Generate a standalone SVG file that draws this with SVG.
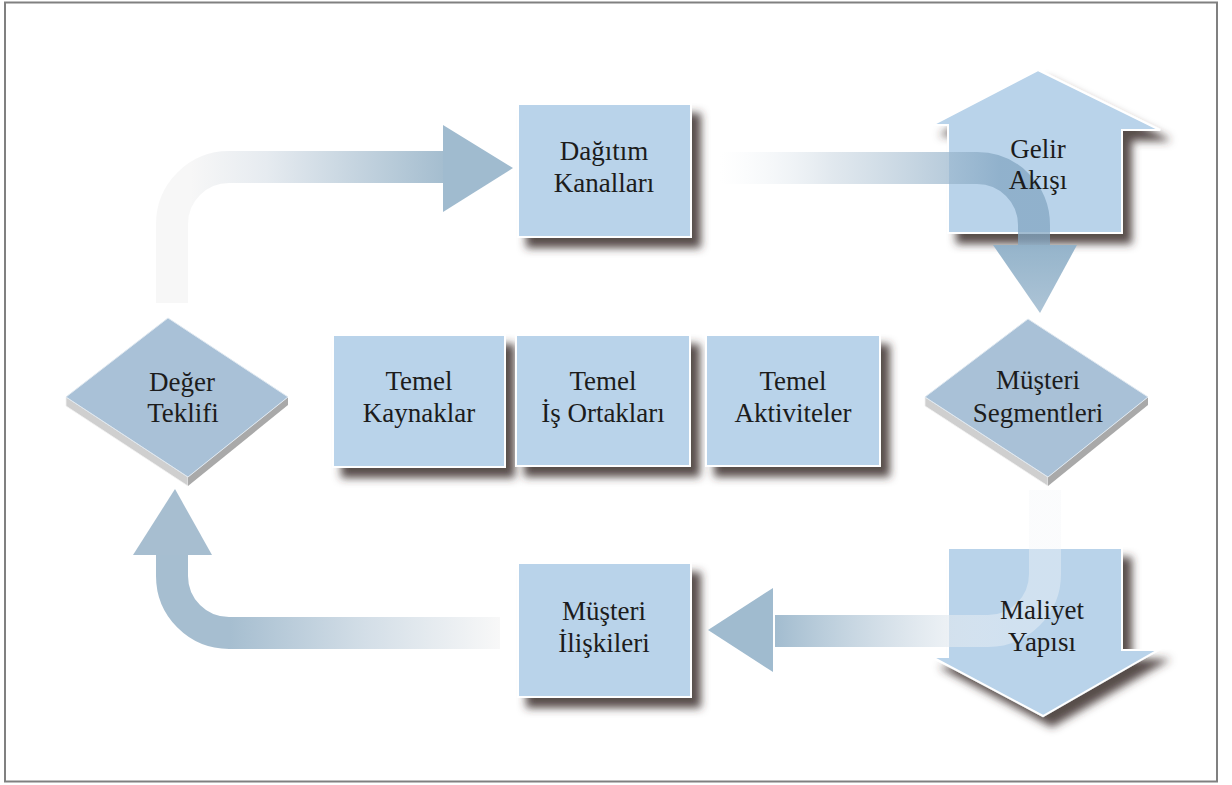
<svg xmlns="http://www.w3.org/2000/svg" width="1232" height="785" viewBox="0 0 1232 785">
<style>
.box{fill:#b9d3ea;stroke:#ffffff;stroke-width:2}
.dtop{fill:#a9c1d7;stroke:#dfe8f0;stroke-width:1}
.dl{fill:#cfcfcf;stroke:#f2f2f2;stroke-width:0.8}
.dr{fill:#a9a9a9}
.t{font-family:"Liberation Serif","Times New Roman",serif;font-size:27px;fill:#1c1c1c;text-anchor:middle}
.band{fill:none;stroke-width:32}
</style>
<defs>
<filter id="sh" x="-20%" y="-20%" width="150%" height="150%">
<feGaussianBlur in="SourceAlpha" stdDeviation="4.5"/>
<feOffset dx="9" dy="10" result="b"/>
<feFlood flood-color="#3b2e2c" flood-opacity="0.85"/>
<feComposite in2="b" operator="in"/>
<feMerge><feMergeNode/><feMergeNode in="SourceGraphic"/></feMerge>
</filter>
<linearGradient id="g1" gradientUnits="userSpaceOnUse" x1="190" y1="0" x2="445" y2="0">
<stop offset="0" stop-color="#f7f7f7"/><stop offset="0.3" stop-color="#e6ebf0"/><stop offset="1" stop-color="#a4bdcf"/>
</linearGradient>
<linearGradient id="g2" gradientUnits="userSpaceOnUse" x1="720" y1="0" x2="1000" y2="0">
<stop offset="0" stop-color="#e8eef3" stop-opacity="0"/><stop offset="0.4" stop-color="#cdd9e3" stop-opacity="0.6"/><stop offset="1" stop-color="#83a6c2" stop-opacity="0.75"/>
</linearGradient>
<linearGradient id="g3" gradientUnits="userSpaceOnUse" x1="1010" y1="0" x2="775" y2="0">
<stop offset="0" stop-color="#f4f6f9" stop-opacity="0.4"/><stop offset="0.45" stop-color="#d4dfe8" stop-opacity="0.8"/><stop offset="1" stop-color="#a2bccf"/>
</linearGradient>
<linearGradient id="g4" gradientUnits="userSpaceOnUse" x1="500" y1="0" x2="230" y2="0">
<stop offset="0" stop-color="#f8f8f8"/><stop offset="0.5" stop-color="#d3dee7"/><stop offset="1" stop-color="#a6bed0"/>
</linearGradient>
<linearGradient id="gt" x1="0" y1="0" x2="0" y2="1">
<stop offset="0" stop-color="#8fb0c8"/><stop offset="1" stop-color="#a9c1d4"/>
</linearGradient>
</defs>
<rect x="5" y="2.5" width="1212" height="779" fill="#ffffff" stroke="#808080" stroke-width="2"/>

<g id="node-dagitim">
<rect class="box" x="518" y="104" width="173" height="133" filter="url(#sh)"/>
<text class="t" font-family="Liberation Serif, serif" x="604" y="160">Dağıtım</text><text class="t" font-family="Liberation Serif, serif" x="604" y="192">Kanalları</text>
</g>
<g id="node-kaynaklar">
<rect class="box" x="333" y="335" width="172" height="132" filter="url(#sh)"/>
<text class="t" x="419" y="390">Temel</text><text class="t" x="419" y="422">Kaynaklar</text>
</g>
<g id="node-ortaklar">
<rect class="box" x="516" y="335" width="174" height="131" filter="url(#sh)"/>
<text class="t" x="603" y="390">Temel</text><text class="t" x="603" y="422">İş Ortakları</text>
</g>
<g id="node-aktiviteler">
<rect class="box" x="706" y="335" width="174" height="131" filter="url(#sh)"/>
<text class="t" x="793" y="390">Temel</text><text class="t" x="793" y="422">Aktiviteler</text>
</g>
<g id="node-iliskiler">
<rect class="box" x="518" y="563" width="173" height="134" filter="url(#sh)"/>
<text class="t" x="604" y="620">Müşteri</text><text class="t" x="604" y="652">İlişkileri</text>
</g>

<g id="node-deger">
<polygon class="dl" points="66,397 188,477 188,486 66,406"/>
<polygon class="dr" points="188,477 288,397 288,405 188,486"/>
<polygon class="dtop" points="66,397 168,318 288,397 188,477"/>
<text class="t" x="182" y="391">Değer</text><text class="t" x="183" y="422">Teklifi</text>
</g>
<g id="node-segment">
<polygon class="dl" points="925,397 1048,477 1048,486 925,406"/>
<polygon class="dr" points="1048,477 1148,397 1148,405 1048,486"/>
<polygon class="dtop" points="925,397 1028,319 1148,397 1048,477"/>
<text class="t" x="1038" y="389">Müşteri</text><text class="t" x="1038" y="422">Segmentleri</text>
</g>

<g id="node-gelir">
<polygon class="box" points="1038,70 1160,130 1122,130 1122,233 948,233 948,125 932,125" filter="url(#sh)"/>
</g>
<g id="node-maliyet">
<polygon class="box" points="948,548 1122,548 1122,650 1158,650 1043,716 932,657 948,657" filter="url(#sh)"/>
</g>

<g id="connectors">
<path class="band" stroke="url(#g1)" d="M172,303 V224 A57,57 0 0 1 229,167 H445"/>
<polygon points="443,125 513,168 443,212" fill="#a0bbcf"/>
<path class="band" stroke="url(#g2)" stroke-width="33" d="M720,168 H977 A57,57 0 0 1 1034,225 V245"/>
<polygon points="993,245 1077,245 1040,313" fill="url(#gt)" fill-opacity="0.95"/>
<path class="band" stroke="url(#g3)" d="M1045,490 V574 A57,57 0 0 1 988,631 H775"/>
<polygon points="773,588 708,630 773,672" fill="#a0bbcf"/>
<path class="band" stroke="url(#g4)" stroke-width="33" d="M500,633 H229 A57,57 0 0 1 172,576 V555"/>
<polygon points="133,555 212,555 175,489" fill="#a7bed0"/>
</g>

<g id="node-gelir-label">
<text class="t" x="1038" y="158">Gelir</text><text class="t" x="1038" y="189">Akışı</text>
</g>
<g id="node-maliyet-label">
<text class="t" x="1042" y="619">Maliyet</text><text class="t" x="1042" y="651">Yapısı</text>
</g>
</svg>
